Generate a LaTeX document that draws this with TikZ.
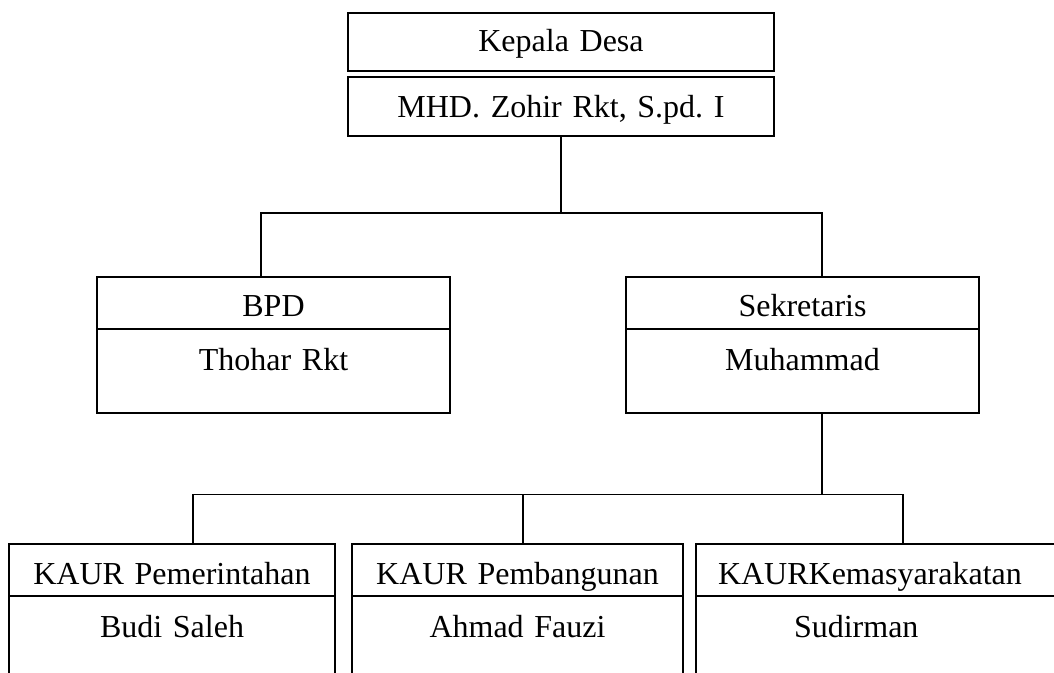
\documentclass[tikz,border=0pt]{standalone}
\usepackage{fontspec}
\setmainfont{Liberation Serif}
\usetikzlibrary{positioning}
\frenchspacing

\begin{document}
\begin{tikzpicture}[x=0.5pt, y=-0.5pt,
        %Styles
        Box/.style={
            draw, line width=1pt,
            inner sep=0pt, outer sep=0pt,
            align=center,
            font=\fontsize{16pt}{19pt}\selectfont\frenchspacing,
        },
        Head/.style={Box, text height=20pt, text depth=6pt},
        Body/.style={Box, text height=20.75pt, text depth=21pt},
        Link/.style={line width=0.7pt},
    ]
\useasboundingbox (0,0) rectangle (1054,673);
\clip (0,0) rectangle (1054,673);

%kepala desa
\node[Box, text width=213pt, text height=19.5pt, text depth=9.5pt, anchor=north west] (kD) at (348,13) {Kepala Desa};
\node[Box, text width=213pt, text height=20.5pt, text depth=9pt, below=3pt of kD] (kDn) {MHD. Zohir Rkt, S.pd. I};

%bpd and sekretaris
\node[Head, text width=176.5pt, anchor=north west] (bpd) at (97,277) {BPD};
\node[Body, text width=176.5pt, below=0pt of bpd] (bpdN) {Thohar Rkt};
\node[Head, text width=176.5pt, right=88pt of bpd] (sek) {Sekretaris};
\node[Body, text width=176.5pt, below=0pt of sek] (sekN) {Muhammad};

%kaur
\node[Head, text width=163pt, anchor=north west] (kaur1) at (9,544) {KAUR Pemerintahan};
\node[Body, text width=163pt, text depth=40pt, below=0pt of kaur1] (kaur1N) {Budi Saleh};
\node[Head, text width=165.5pt, right=8.5pt of kaur1] (kaur2) {KAUR Pembangunan};
\node[Body, text width=165.5pt, text depth=40pt, below=0pt of kaur2] (kaur2N) {Ahmad Fauzi};
\node[Head, text width=170pt, inner xsep=11pt, align=left, right=6.5pt of kaur2] (kaur3) {KAURKemasyarakatan};
\node[Body, text width=94pt, inner xsep=49pt, align=left, text depth=40pt, below=0pt of kaur3] (kaur3N) {Sudirman};

%lines
\draw[Link] (kDn.south) -- ++(0,77) coordinate (bus1);
\draw[Link] ([xshift=-6.25pt]bpd.north) |- (bus1) -| ([xshift=9.75pt]sek.north);
\draw[Link] ([xshift=9.75pt]sekN.south) -- ++(0,82) coordinate (bus2);
\draw[Link] ([xshift=10.5pt]kaur1.north) |- (bus2) -| ([xshift=103.5pt]kaur3.north west);
\draw[Link] ([xshift=2.75pt]kaur2.north) -- ++(0,-49);

\end{tikzpicture}
\end{document}
